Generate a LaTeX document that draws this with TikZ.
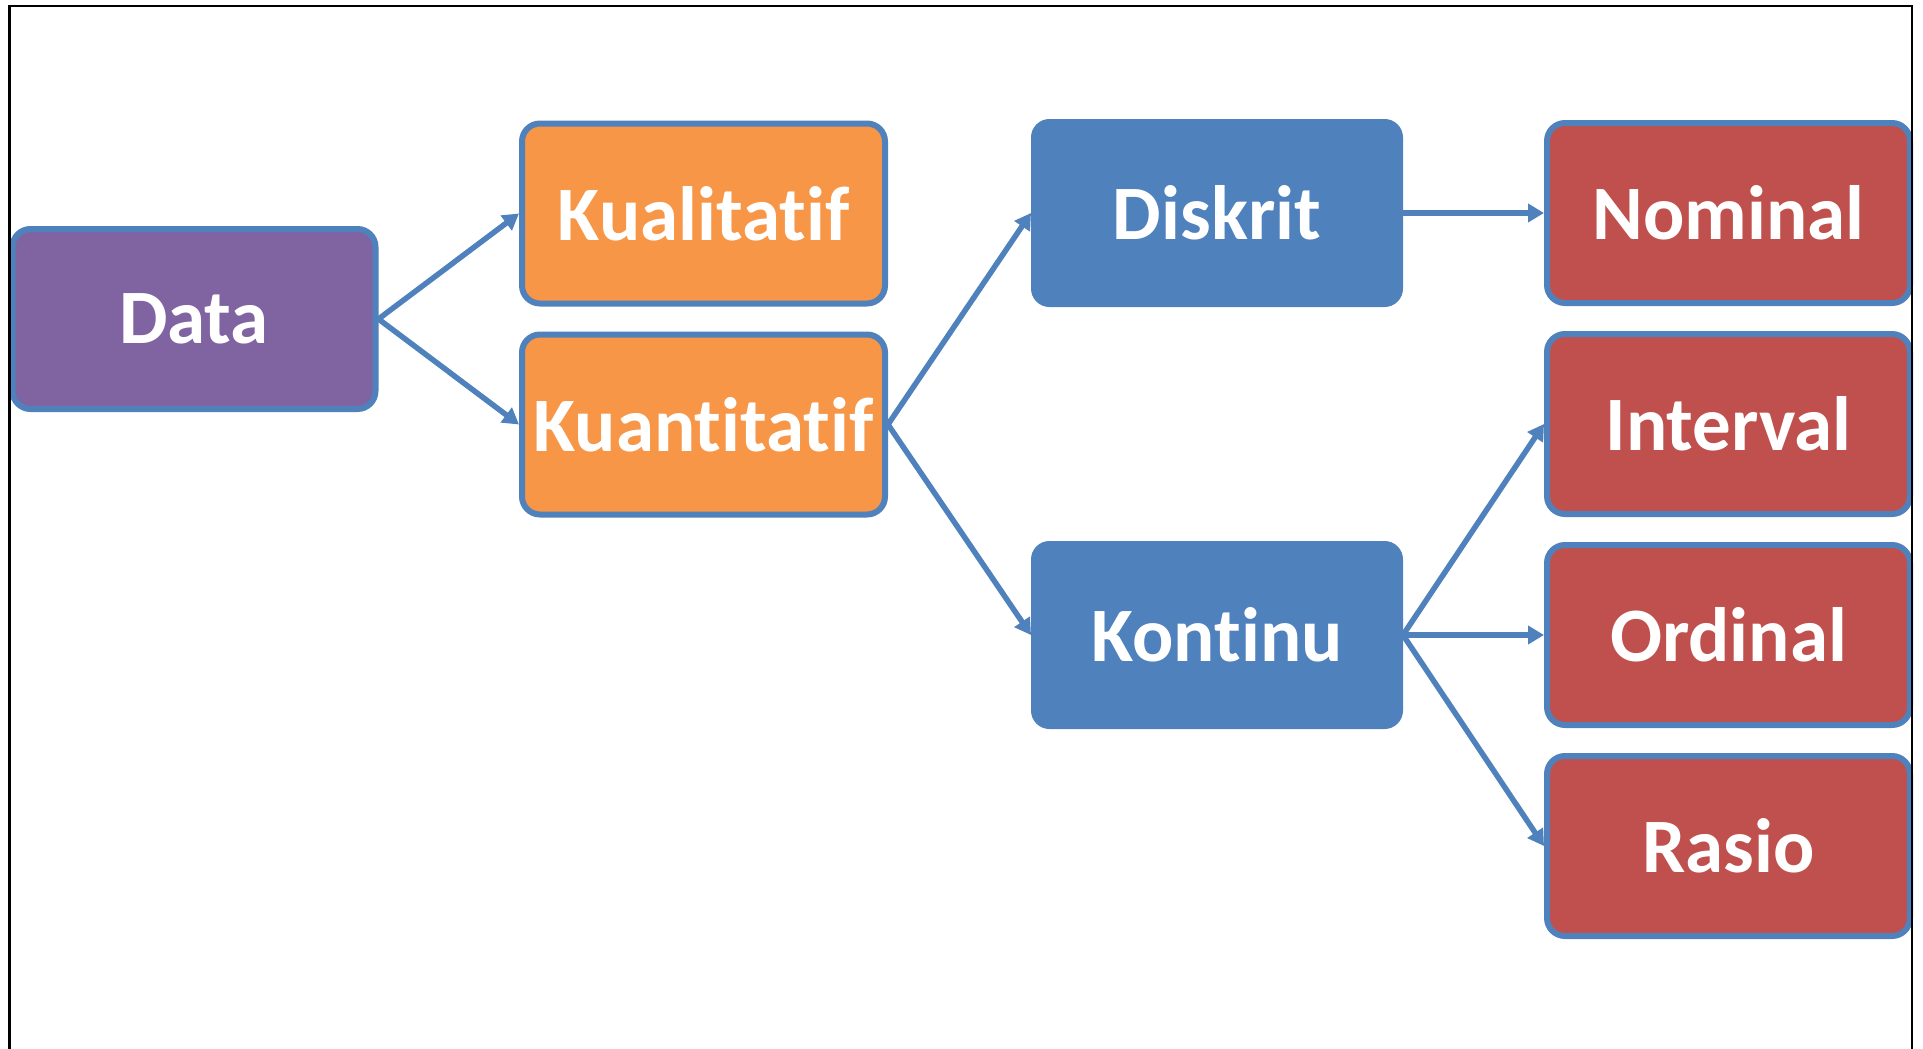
\documentclass[tikz,border=0pt]{standalone}
\usepackage{fontspec}
\setmainfont[Ligatures={NoCommon,NoRare,NoContextual}]{Carlito}
\usetikzlibrary{arrows.meta}
\definecolor{cpurple}{HTML}{8064A2}
\definecolor{corange}{HTML}{F79646}
\definecolor{cblue}{HTML}{4F81BD}
\definecolor{cred}{HTML}{C0504D}
\tikzset{
  box/.style={rectangle, rounded corners=18pt, draw=cblue, line width=6pt,
    minimum width=363pt, minimum height=180pt, inner sep=0pt,
    text=white, font=\fontsize{77}{90}\selectfont\bfseries},
  solidbox/.style={box, fill=cblue, line width=1pt, minimum width=371pt, minimum height=187pt},
  conn/.style={draw=cblue, line width=5.5pt, -{Triangle[length=16pt,width=18pt]}},
  frame/.style={draw=black, line width=2.5pt}
}
\begin{document}
\begin{tikzpicture}[x=1pt,y=-1pt]
\useasboundingbox (0,0) rectangle (1923,1049);
\fill[white] (0,0) rectangle (1923,1049);
\node[box, fill=cpurple] (data) at (194,319) {Data};
\node[box, fill=corange] (kual) at (703.5,213.5) {Kualitatif};
\node[box, fill=corange] (kuan) at (703.5,424.5) {Kuantitatif};
\node[solidbox] (disk) at (1217,213) {Diskrit};
\node[solidbox] (kont) at (1217,635) {Kontinu};
\node[box, fill=cred] (nom) at (1728.5,213) {Nominal};
\node[box, fill=cred] (int) at (1728.5,424) {Interval};
\node[box, fill=cred] (ord) at (1728.5,635) {Ordinal};
\node[box, fill=cred] (ras) at (1728.5,846) {Rasio};
\draw[conn] (data.east) -- (kual.west);
\draw[conn] (data.east) -- (kuan.west);
\draw[conn] (kuan.east) -- (disk.west);
\draw[conn] (kuan.east) -- (kont.west);
\draw[conn] (disk.east) -- (nom.west);
\draw[conn] (kont.east) -- (int.west);
\draw[conn] (kont.east) -- (ord.west);
\draw[conn] (kont.east) -- (ras.west);
\coordinate (fbl) at (9.5,1049);
\coordinate (ftl) at (9.5,6);
\coordinate (ftr) at (1912,6);
\coordinate (fbr) at (1912,1049);
\draw[frame] (fbl) -- (ftl) -- (ftr) -- (fbr);
\end{tikzpicture}
\end{document}
